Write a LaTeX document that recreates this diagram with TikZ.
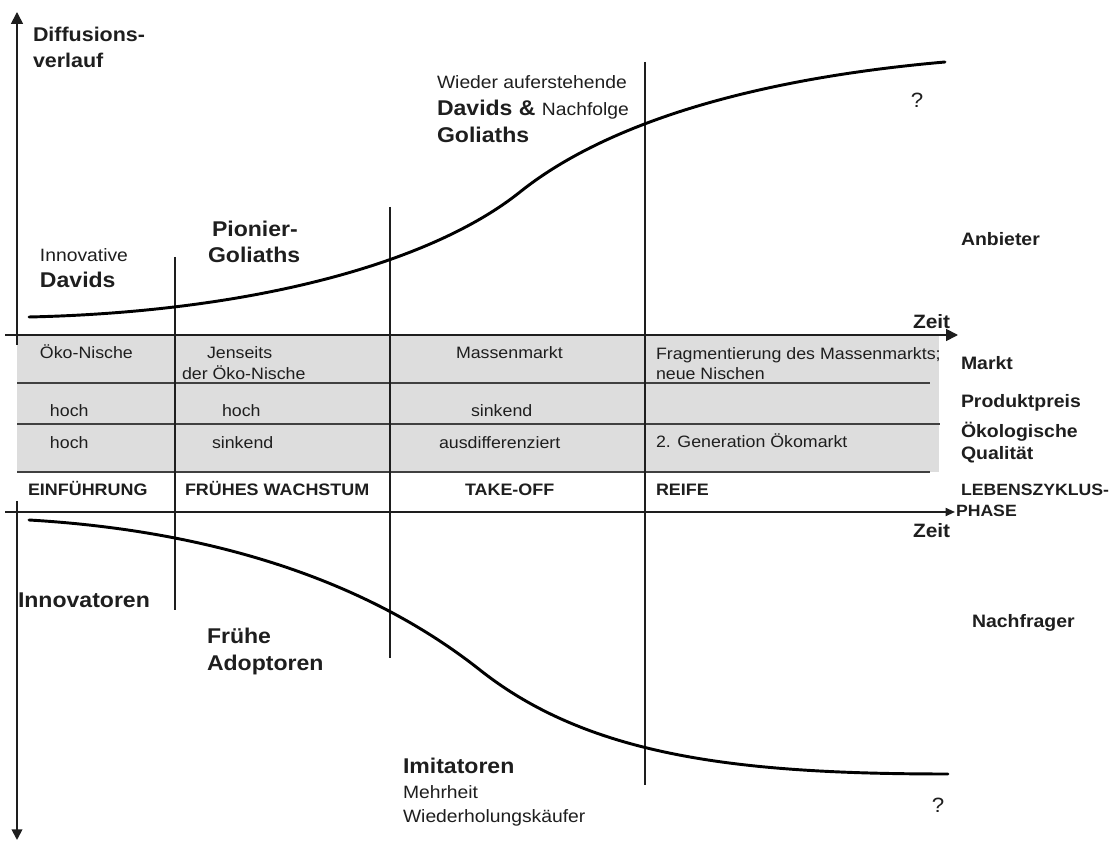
\documentclass[tikz,border=0pt]{standalone}
\usepackage{fontspec}
\setmainfont{Liberation Sans}[FakeStretch=1.08]
\usetikzlibrary{arrows.meta}
\definecolor{band}{HTML}{DDDDDD}
\definecolor{ink}{HTML}{1E1E1E}
\begin{document}
\begin{tikzpicture}[x=0.75pt,y=-0.75pt,
  t/.style={inner sep=0pt, outer sep=0pt, anchor=base west, text=ink},
  big/.style={t, font=\bfseries\fontsize{16}{19}\selectfont},
  mid/.style={t, font=\bfseries\fontsize{14.9}{18}\selectfont},
  reg/.style={t, font=\fontsize{13.4}{16}\selectfont},
  qmark/.style={t, anchor=base, font=\fontsize{15.5}{18}\selectfont},
  cell/.style={t, font=\fontsize{12.35}{15}\selectfont},
  phase/.style={t, font=\bfseries\fontsize{12.45}{15}\selectfont},
  lebens/.style={t, font=\bfseries\fontsize{12.25}{15}\selectfont},
  side/.style={t, font=\bfseries\fontsize{13.5}{16}\selectfont},
  zeitlab/.style={t, font=\bfseries\fontsize{14.5}{17}\selectfont},
  axis/.style={line width=1.3pt, draw=ink},
  bigtip/.style={-{Triangle[length=9pt,width=9pt]}},
  downtip/.style={-{Triangle[length=8pt,width=8pt]}},
  smalltip/.style={-{Triangle[length=7pt,width=6pt]}},
  divider/.style={line width=1.2pt, draw=ink},
  rowrule/.style={line width=0.9pt, draw=ink!85},
  curve/.style={line width=2.2pt, draw=black, line cap=round}]
\useasboundingbox (0,0) rectangle (1115,841);

% gray table band
\fill[band] (17,335) rectangle (939,472);
\coordinate (r1a) at (17,383); \coordinate (r1b) at (930,383);
\coordinate (r2a) at (17,424); \coordinate (r2b) at (940,424);
\coordinate (r3a) at (17,472); \coordinate (r3b) at (930,472);
\draw[rowrule] (r1a) -- (r1b);
\draw[rowrule] (r2a) -- (r2b);
\draw[rowrule] (r3a) -- (r3b);

% axes
\coordinate (vtopS) at (17,345); \coordinate (vtopE) at (17,12);
\coordinate (vbotS) at (17,501); \coordinate (vbotE) at (17,840);
\coordinate (h1S) at (5,335); \coordinate (h1E) at (958,335);
\coordinate (h2S) at (5,512); \coordinate (h2E) at (955,512);
\draw[axis,bigtip] (vtopS) -- (vtopE);
\draw[axis,downtip] (vbotS) -- (vbotE);
\draw[axis,bigtip] (h1S) -- (h1E);
\draw[axis,smalltip] (h2S) -- (h2E);

% phase dividers
\coordinate (c1t) at (175,257); \coordinate (c1b) at (175,610);
\coordinate (c2t) at (390,207); \coordinate (c2b) at (390,658);
\coordinate (c3t) at (645,62);  \coordinate (c3b) at (645,785);
\draw[divider] (c1t) -- (c1b);
\draw[divider] (c2t) -- (c2b);
\draw[divider] (c3t) -- (c3b);

% diffusion curves
\coordinate (upS) at (29,317); \coordinate (upM) at (520,192); \coordinate (upE) at (945,62);
\draw[curve] (upS) .. controls (250,312) and (430,264) .. (upM)
                   .. controls (600,128) and (740,80) .. (upE);
\coordinate (loS) at (29,520); \coordinate (loM) at (480,670); \coordinate (loE) at (948,774);
\draw[curve] (loS) .. controls (200,530) and (360,575) .. (loM)
                   .. controls (590,757) and (740,774) .. (loE);

% upper labels
\node[mid] (dif1) at (33,42) {Diffusions-};
\node[mid] (dif2) at (33,68) {verlauf};
\node[reg] (inno) at (40,262) {Innovative};
\node[big] (dav) at (40,288) {Davids};
\node[big] (pion) at (212,237) {Pionier-};
\node[big] (gol) at (208,263) {Goliaths};
\node[reg] (wied) at (437,89) {Wieder auferstehende};
\node[big] (dav2) at (437,116) {Davids \& {\mdseries\fontsize{13.4}{16}\selectfont Nachfolge}};
\node[big] (gol2) at (437,143) {Goliaths};
\node[qmark] (q1) at (917,108) {?};
\node[side] (anb) at (961,246) {Anbieter};
\node[zeitlab] (zeit1) at (913,329) {Zeit};

% table cells
\node[cell] (m1) at (40,359) {Öko-Nische};
\node[cell] (m2a) at (207,359) {Jenseits};
\node[cell] (m2b) at (182,380) {der Öko-Nische};
\node[cell] (m3) at (456,359) {Massenmarkt};
\node[cell] (m4a) at (656,360) {Fragmentierung des Massenmarkts;};
\node[cell] (m4b) at (656,380) {neue Nischen};
\node[cell] (p1) at (50,417) {hoch};
\node[cell] (p2) at (222,417) {hoch};
\node[cell] (p3) at (471,417) {sinkend};
\node[cell] (q1c) at (50,449) {hoch};
\node[cell] (q2c) at (212,449) {sinkend};
\node[cell] (q3c) at (439,449) {ausdifferenziert};
\node[cell] (q4c) at (656,448) {2. Generation Ökomarkt};

% phases
\node[phase] (ph1) at (28,496) {EINFÜHRUNG};
\node[phase] (ph2) at (185,496) {FRÜHES WACHSTUM};
\node[phase] (ph3) at (465,496) {TAKE-OFF};
\node[phase] (ph4) at (656,496) {REIFE};

% right side labels
\node[side] (markt) at (961,370) {Markt};
\node[side] (preis) at (961,408) {Produktpreis};
\node[side] (oeko1) at (961,438) {Ökologische};
\node[side] (oeko2) at (961,460) {Qualität};
\node[lebens] (leb1) at (961,496) {LEBENSZYKLUS-};
\node[lebens] (leb2) at (956,517) {PHASE};
\node[zeitlab] (zeit2) at (913,538) {Zeit};
\node[side] (nach) at (972,628) {Nachfrager};

% lower labels
\node[big] (innov) at (18,608) {Innovatoren};
\node[big] (fru1) at (207,643) {Frühe};
\node[big] (fru2) at (207,671) {Adoptoren};
\node[big] (imit) at (403,773) {Imitatoren};
\node[reg] (mehr) at (403,798) {Mehrheit};
\node[reg] (wdh) at (403,822) {Wiederholungskäufer};
\node[qmark] (q2) at (938,812) {?};
\end{tikzpicture}
\end{document}
